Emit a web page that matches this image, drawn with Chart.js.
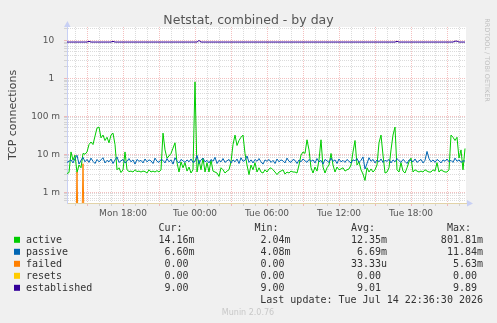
<!DOCTYPE html>
<html>
<head>
<meta charset="utf-8">
<script src="https://cdn.jsdelivr.net/npm/chart.js@4/dist/chart.umd.min.js"></script>
<style>
  html, body { margin: 0; padding: 0; background: #f0f0f0; }
  canvas { display: block; }
</style>
</head>
<body>
<canvas id="myChart" width="497" height="323"></canvas>
<script>
"use strict";

// samples every 10 minutes, time in hours relative to Tue 00:00 (first sample Mon 13:20)
const startHour = -10 - 40 / 60;
const stepHour = 10 / 60;
const xMin = -10 - 40 / 60;
const xMax = 22 + 35 / 60;

const active = [
  0.0031, 0.0033, 0.0115, 0.007, 0.0095, 0.0033, 0.0052, 0.0044, 0.0105, 0.01, 0.0115, 0.018, 0.021, 0.018, 0.03, 0.049, 0.052, 0.027, 0.032, 0.023,
  0.028, 0.02, 0.032, 0.036, 0.018, 0.0039, 0.0044, 0.0033, 0.0039, 0.0115, 0.0039, 0.0035, 0.0036, 0.0034, 0.0039, 0.0035, 0.0036, 0.0034, 0.0036, 0.0035,
  0.0032, 0.0039, 0.0034, 0.0036, 0.0034, 0.0037, 0.0034, 0.0039, 0.036, 0.013, 0.0079, 0.009, 0.0105, 0.0145, 0.02, 0.006, 0.0034, 0.0063, 0.0044, 0.006,
  0.0036, 0.0046, 0.0032, 0.0039, 0.80181, 0.0034, 0.007, 0.0039, 0.0079, 0.0034, 0.006, 0.0034, 0.007, 0.0036, 0.0034, 0.0032, 0.0026, 0.0044, 0.0039, 0.0032,
  0.0036, 0.0039, 0.0063, 0.018, 0.032, 0.017, 0.023, 0.028, 0.032, 0.0105, 0.0052, 0.0029, 0.0052, 0.0039, 0.006, 0.0034, 0.0044, 0.0034, 0.0032, 0.0039,
  0.0034, 0.0041, 0.0044, 0.0039, 0.0034, 0.0029, 0.0034, 0.0036, 0.0039, 0.003, 0.0034, 0.0032, 0.0036, 0.0034, 0.0034, 0.0032, 0.0052, 0.0095, 0.0115, 0.0105,
  0.024, 0.013, 0.0044, 0.0032, 0.0046, 0.0036, 0.007, 0.024, 0.0046, 0.0032, 0.0044, 0.0052, 0.0105, 0.0052, 0.0034, 0.0046, 0.0039, 0.0041, 0.0044, 0.0036,
  0.0039, 0.0041, 0.0052, 0.0115, 0.023, 0.0052, 0.0063, 0.0039, 0.003, 0.00204, 0.0044, 0.0034, 0.0041, 0.0034, 0.0039, 0.0052, 0.02, 0.032, 0.0095, 0.0032,
  0.0034, 0.0044, 0.013, 0.032, 0.052, 0.0039, 0.0034, 0.006, 0.0036, 0.0032, 0.0044, 0.0063, 0.0079, 0.0034, 0.0039, 0.0036, 0.0034, 0.0036, 0.0034, 0.0039,
  0.0036, 0.0034, 0.0034, 0.0039, 0.0036, 0.006, 0.0034, 0.0039, 0.0036, 0.0034, 0.0034, 0.0039, 0.032, 0.028, 0.023, 0.028, 0.0079, 0.013, 0.0039, 0.01416
];

const passive = [
  0.0061, 0.0065, 0.0071, 0.0059, 0.0077, 0.0094, 0.0055, 0.0069, 0.0083, 0.0063, 0.0073, 0.0061, 0.0079, 0.0065, 0.0057, 0.0073, 0.0063, 0.0071, 0.0081, 0.0059,
  0.0069, 0.0063, 0.0075, 0.0057, 0.0071, 0.0085, 0.0061, 0.0067, 0.0073, 0.0059, 0.0065, 0.0077, 0.0063, 0.0071, 0.0055, 0.0073, 0.0065, 0.0069, 0.0059, 0.0075,
  0.0063, 0.0071, 0.0067, 0.0057, 0.0079, 0.0065, 0.0061, 0.0073, 0.0069, 0.0059, 0.0077, 0.0063, 0.0071, 0.0055, 0.0081, 0.0065, 0.0059, 0.0073, 0.0067, 0.0061,
  0.0071, 0.0063, 0.0075, 0.0061, 0.0065, 0.0093, 0.0057, 0.0071, 0.0079, 0.0063, 0.0069, 0.0059, 0.0073, 0.0065, 0.0083, 0.0057, 0.0069, 0.0063, 0.0077, 0.0061,
  0.0067, 0.0073, 0.0059, 0.0071, 0.0063, 0.0075, 0.0057, 0.0081, 0.0065, 0.0069, 0.0090, 0.0061, 0.0071, 0.0059, 0.0073, 0.0065, 0.0077, 0.0063, 0.0055, 0.0071,
  0.0065, 0.0073, 0.0061, 0.0069, 0.0057, 0.0075, 0.0063, 0.0071, 0.0067, 0.0059, 0.0079, 0.0065, 0.0061, 0.0073, 0.0069, 0.0057, 0.0071, 0.0063, 0.0075, 0.0067,
  0.0061, 0.0073, 0.0065, 0.0071, 0.0059, 0.0077, 0.0063, 0.0069, 0.0055, 0.0073, 0.0067, 0.0061, 0.0079, 0.0065, 0.0071, 0.0057, 0.0075, 0.0063, 0.0069, 0.0061,
  0.0073, 0.0065, 0.0059, 0.0071, 0.0067, 0.0077, 0.0061, 0.0069, 0.0085, 0.00408, 0.0057, 0.0081, 0.0065, 0.0073, 0.0059, 0.0071, 0.0063, 0.0075, 0.0061, 0.0069,
  0.0065, 0.0073, 0.0059, 0.0071, 0.0063, 0.0077, 0.0067, 0.0061, 0.0073, 0.0065, 0.0057, 0.0071, 0.0069, 0.0063, 0.0075, 0.0061, 0.0067, 0.0073, 0.0059, 0.0069,
  0.01184, 0.0077, 0.0063, 0.0071, 0.0061, 0.0073, 0.0067, 0.0059, 0.0071, 0.0065, 0.0075, 0.0063, 0.0069, 0.0061, 0.0079, 0.0065, 0.0071, 0.0061, 0.0067, 0.0066
];

const failed = [
  0, 0, 0, 0, 0, 0.0034, 0, 0, 0.00563, 0, 0, 0, 0, 0, 0, 0, 0, 0, 0, 0,
  0, 0, 0, 0, 0, 0, 0, 0, 0, 0, 0, 0, 0, 0, 0, 0, 0, 0, 0, 0,
  0, 0, 0, 0, 0, 0, 0, 0, 0, 0, 0, 0, 0, 0, 0, 0, 0, 0, 0, 0,
  0, 0, 0, 0, 0, 0, 0, 0, 0, 0, 0, 0, 0, 0, 0, 0, 0, 0, 0, 0,
  0, 0, 0, 0, 0, 0, 0, 0, 0, 0, 0, 0, 0, 0, 0, 0, 0, 0, 0, 0,
  0, 0, 0, 0, 0, 0, 0, 0, 0, 0, 0, 0, 0, 0, 0, 0, 0, 0, 0, 0,
  0, 0, 0, 0, 0, 0, 0, 0, 0, 0, 0, 0, 0, 0, 0, 0, 0, 0, 0, 0,
  0, 0, 0, 0, 0, 0, 0, 0, 0, 0, 0, 0, 0, 0, 0, 0, 0, 0, 0, 0,
  0, 0, 0, 0, 0, 0, 0, 0, 0, 0, 0, 0, 0, 0, 0, 0, 0, 0, 0, 0,
  0, 0, 0, 0, 0, 0, 0, 0, 0, 0, 0, 0, 0, 0, 0, 0, 0, 0, 0, 0
];

const resets = [
  0, 0, 0, 0, 0, 0, 0, 0, 0, 0, 0, 0, 0, 0, 0, 0, 0, 0, 0, 0,
  0, 0, 0, 0, 0, 0, 0, 0, 0, 0, 0, 0, 0, 0, 0, 0, 0, 0, 0, 0,
  0, 0, 0, 0, 0, 0, 0, 0, 0, 0, 0, 0, 0, 0, 0, 0, 0, 0, 0, 0,
  0, 0, 0, 0, 0, 0, 0, 0, 0, 0, 0, 0, 0, 0, 0, 0, 0, 0, 0, 0,
  0, 0, 0, 0, 0, 0, 0, 0, 0, 0, 0, 0, 0, 0, 0, 0, 0, 0, 0, 0,
  0, 0, 0, 0, 0, 0, 0, 0, 0, 0, 0, 0, 0, 0, 0, 0, 0, 0, 0, 0,
  0, 0, 0, 0, 0, 0, 0, 0, 0, 0, 0, 0, 0, 0, 0, 0, 0, 0, 0, 0,
  0, 0, 0, 0, 0, 0, 0, 0, 0, 0, 0, 0, 0, 0, 0, 0, 0, 0, 0, 0,
  0, 0, 0, 0, 0, 0, 0, 0, 0, 0, 0, 0, 0, 0, 0, 0, 0, 0, 0, 0,
  0, 0, 0, 0, 0, 0, 0, 0, 0, 0, 0, 0, 0, 0, 0, 0, 0, 0, 0, 0
];

const established = [
  9, 9, 9, 9, 9, 9, 9, 9, 9, 9, 9, 9.4, 9, 9, 9, 9, 9, 9, 9, 9,
  9, 9, 9, 9.4, 9, 9, 9, 9, 9, 9, 9, 9, 9, 9, 9, 9, 9, 9, 9, 9,
  9, 9, 9, 9, 9, 9, 9, 9, 9, 9, 9, 9, 9, 9, 9, 9, 9, 9, 9, 9,
  9, 9, 9, 9, 9, 9, 9.89, 9, 9, 9, 9, 9, 9, 9, 9, 9, 9, 9, 9, 9,
  9, 9, 9, 9, 9, 9, 9, 9, 9, 9, 9, 9, 9, 9, 9, 9, 9, 9, 9, 9,
  9, 9, 9, 9, 9, 9, 9, 9, 9, 9, 9, 9, 9, 9, 9, 9, 9, 9, 9, 9,
  9, 9, 9, 9, 9, 9, 9, 9, 9, 9, 9, 9, 9, 9, 9, 9, 9, 9, 9, 9,
  9, 9, 9, 9, 9, 9, 9, 9, 9, 9, 9, 9, 9, 9, 9, 9, 9, 9, 9, 9,
  9, 9, 9, 9, 9, 9.4, 9, 9, 9, 9, 9, 9, 9, 9, 9, 9, 9, 9, 9, 9,
  9, 9, 9, 9, 9, 9, 9, 9, 9, 9, 9, 9, 9, 9, 9.5, 9.5, 9, 9, 9, 9
];

// axis ticks
const xLabelHours = [-6, 0, 6, 12, 18];
const xLabels = ['Mon 18:00', 'Tue 00:00', 'Tue 06:00', 'Tue 12:00', 'Tue 18:00'];
const yMin = 0.00052;
const yMax = 22.4;
const yDecades = [0.0001, 0.001, 0.01, 0.1, 1, 10];
const yLabelValues = [0.001, 0.01, 0.1, 1, 10];
const yLabels = ['1 m', '10 m', '100 m', '1  ', '10  '];

// legend
const seriesNames = ['active', 'passive', 'failed', 'resets', 'established'];
const curVals = ['14.16m', '6.60m', '0.00', '0.00', '9.00'];
const minVals = ['2.04m', '4.08m', '0.00', '0.00', '9.00'];
const avgVals = ['12.35m', '6.69m', '33.33u', '0.00', '9.01'];
const maxVals = ['801.81m', '11.84m', '5.63m', '0.00', '9.89'];
const lastUpdate = 'Last update: Tue Jul 14 22:36:30 2026';

const colors = ['#00cc00', '#0066b3', '#ff8000', '#ffcc00', '#330099'];
const RED = 'rgba(235,140,140,0.55)';
const GRAY = 'rgba(175,175,175,0.45)';

function toPoints(arr) {
  // zero has no place on a log axis: push it below the plot so only the rise shows
  return arr.map((v, i) => ({ x: startHour + i * stepHour, y: v > 0 ? v : yMin / 100 }));
}

const gridHours = [];
for (let h = -10; h <= 22; h++) gridHours.push(h);

const yGrid = [];
yDecades.forEach(d => {
  for (let m = 1; m <= 9; m++) {
    const v = +(m * d).toPrecision(6);
    if (v >= yMin && v <= yMax) yGrid.push(v);
  }
});
const isDecade = v => v !== undefined && Math.abs(Math.log10(v) - Math.round(Math.log10(v))) < 1e-9;

const decor = {
  id: 'decor',
  beforeDraw(chart) {
    const { ctx, chartArea: a } = chart;
    ctx.save();
    ctx.fillStyle = '#f0f0f0';
    ctx.fillRect(0, 0, chart.width, chart.height);
    ctx.fillStyle = '#ffffff';
    ctx.fillRect(a.left, a.top, a.right - a.left, a.bottom - a.top);
    ctx.restore();
  },
  afterDraw(chart) {
    const { ctx, chartArea: a } = chart;
    ctx.save();
    // axis arrows
    ctx.fillStyle = '#c8d0f4';
    ctx.beginPath();
    ctx.moveTo(a.left - 3, a.top);
    ctx.lineTo(a.left + 3.5, a.top);
    ctx.lineTo(a.left + 0.5, a.top - 6);
    ctx.closePath();
    ctx.fill();
    ctx.beginPath();
    ctx.moveTo(a.right + 1, a.bottom - 3);
    ctx.lineTo(a.right + 1, a.bottom + 3.5);
    ctx.lineTo(a.right + 7, a.bottom + 0.5);
    ctx.closePath();
    ctx.fill();

    // title
    ctx.fillStyle = '#555';
    ctx.textAlign = 'center';
    ctx.textBaseline = 'alphabetic';
    ctx.font = '12.5px "DejaVu Sans"';
    ctx.fillText('Netstat, combined - by day', 248.5, 24);

    // y axis title
    ctx.save();
    ctx.translate(15.5, 115);
    ctx.rotate(-Math.PI / 2);
    ctx.font = '11px "DejaVu Sans"';
    ctx.fillStyle = '#444';
    ctx.fillText('TCP connections', 0, 0);
    ctx.restore();

    // rrdtool credit
    ctx.save();
    ctx.translate(484.5, 60);
    ctx.rotate(Math.PI / 2);
    ctx.font = '6.5px "DejaVu Sans"';
    ctx.fillStyle = '#c0c0c0';
    ctx.fillText('RRDTOOL / TOBI OETIKER', 0, 0);
    ctx.restore();

    // legend
    ctx.font = '10px "DejaVu Sans Mono"';
    ctx.fillStyle = '#333';
    const colRight = [194.5, 290.5, 387, 483];
    const heads = ['Cur:', 'Min:', 'Avg:', 'Max:'];
    ctx.textAlign = 'left';
    heads.forEach((h, c) => ctx.fillText(h, colRight[c] - 36, 231));
    const cols = [curVals, minVals, avgVals, maxVals];
    seriesNames.forEach((name, r) => {
      const base = 243.3 + r * 12;
      ctx.fillStyle = colors[r];
      ctx.fillRect(14, base - 6.5, 6, 6);
      ctx.fillStyle = '#333';
      ctx.textAlign = 'left';
      ctx.fillText(name, 26, base);
      ctx.textAlign = 'right';
      cols.forEach((vals, c) => {
        const s = /[a-z]$/.test(vals[r]) ? vals[r] : vals[r] + ' ';
        ctx.fillText(s, colRight[c], base);
      });
    });
    ctx.textAlign = 'right';
    ctx.fillText(lastUpdate, 483, 303);

    ctx.textAlign = 'center';
    ctx.font = '8px "DejaVu Sans"';
    ctx.fillStyle = '#c8c8c8';
    ctx.fillText('Munin 2.0.76', 248, 315);
    ctx.restore();
  }
};

const ctx = document.querySelector('#myChart').getContext('2d');

const data = {
  datasets: [
    { label: 'active', data: toPoints(active), borderColor: colors[0], order: 5 },
    { label: 'passive', data: toPoints(passive), borderColor: colors[1], order: 4 },
    { label: 'failed', data: toPoints(failed), borderColor: colors[2], order: 3 },
    { label: 'resets', data: toPoints(resets), borderColor: colors[3], order: 2 },
    { label: 'established', data: toPoints(established), borderColor: colors[4], order: 1 }
  ]
};

const tickFont = { family: 'DejaVu Sans', size: 9 };

const config = {
  type: 'line',
  data: data,
  options: {
    responsive: false,
    devicePixelRatio: 1,
    animation: false,
    elements: {
      point: { radius: 0 },
      line: { borderWidth: 1, tension: 0 }
    },
    layout: { padding: { top: 27, right: 31, bottom: 100, left: 0 } },
    plugins: {
      legend: { display: false },
      title: { display: false },
      tooltip: { enabled: false }
    },
    scales: {
      x: {
        type: 'linear',
        min: xMin,
        max: xMax,
        afterBuildTicks: s => { s.ticks = gridHours.map(v => ({ value: v })); },
        afterFit: s => { s.height = 20; },
        ticks: {
          autoSkip: false,
          maxRotation: 0,
          padding: 2,
          color: '#555',
          font: tickFont,
          callback: v => {
            const i = xLabelHours.indexOf(v);
            return i >= 0 ? xLabels[i] : '';
          }
        },
        grid: {
          color: c => (c.tick && c.tick.value % 3 === 0) ? RED : GRAY,
          tickColor: c => (c.tick && c.tick.value % 3 === 0) ? RED : GRAY,
          tickLength: 3,
          tickBorderDash: []
        },
        border: { color: '#e2d3a8', dash: [1, 1] }
      },
      y: {
        type: 'logarithmic',
        min: yMin,
        max: yMax,
        afterBuildTicks: s => { s.ticks = yGrid.map(v => ({ value: v })); },
        afterFit: s => { s.width = 67; },
        ticks: {
          autoSkip: false,
          padding: 4,
          color: '#555',
          font: tickFont,
          callback: v => {
            const i = yLabelValues.findIndex(l => Math.abs(l - v) < l * 1e-6);
            return i >= 0 ? yLabels[i] : '';
          }
        },
        grid: {
          color: c => (c.tick && isDecade(c.tick.value)) ? RED : GRAY,
          tickColor: c => (c.tick && isDecade(c.tick.value)) ? RED : GRAY,
          tickLength: 3,
          tickBorderDash: []
        },
        border: { color: '#c8d0f4', dash: [1, 1] }
      }
    }
  },
  plugins: [decor]
};

const myChart = new Chart(ctx, config);
</script>
</body>
</html>
